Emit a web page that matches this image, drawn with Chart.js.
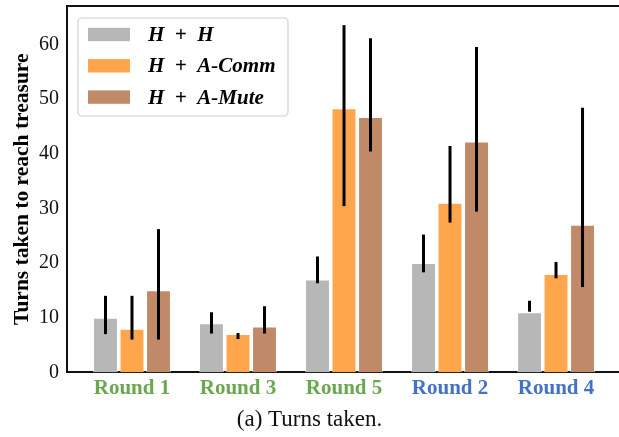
<!DOCTYPE html>
<html>
<head>
<meta charset="utf-8">
<script src="https://cdn.jsdelivr.net/npm/chart.js@4"></script>
<style>
  html, body { margin: 0; padding: 0; background: #fff; }
  #wrap { width: 619px; height: 437px; position: relative; }
</style>
</head>
<body>
<div id="wrap"><canvas id="c" width="619" height="437"></canvas></div>
<script>
// ---- data ----
const categories = ["Round 1", "Round 3", "Round 5", "Round 2", "Round 4"];
const categoryColors = ["#6aa84f", "#6aa84f", "#6aa84f", "#4472c4", "#4472c4"];
const seriesNames = ["H + H", "H + A-Comm", "H + A-Mute"];
const hh     = [10, 9, 17, 20, 11];
const hhLo   = [7, 7.1, 16.3, 18.3, 11.1];
const hhHi   = [14, 11, 21.2, 25.2, 13.1];
const comm   = [8, 7, 48.3, 31, 18];
const commLo = [6, 6.1, 30.4, 27.4, 17.2];
const commHi = [14, 7.2, 63.5, 41.4, 20.2];
const mute   = [15, 8.4, 46.7, 42.2, 27];
const muteLo = [6, 7.1, 40.4, 29.4, 15.6];
const muteHi = [26.2, 12.1, 61.1, 59.5, 48.4];
const yTicks = [0, 10, 20, 30, 40, 50, 60];

const SERIF = '"Liberation Serif", "Times New Roman", serif';
const colors = ["#b7b7b7", "#ffa64d", "#c08a69"];
const errLo = [hhLo, commLo, muteLo];
const errHi = [hhHi, commHi, muteHi];
const values = [hh, comm, mute];

const datasets = values.map((vals, k) => ({
  label: seriesNames[k],
  data: vals.map((v, i) => ({ x: i, y: v })),
  backgroundColor: colors[k],
  borderColor: "rgba(255,255,255,0.55)",
  borderWidth: 1,
  borderSkipped: "bottom",
  barPercentage: 0.94,
  categoryPercentage: 0.75
}));

const errorBars = {
  id: "errorBars",
  afterDatasetsDraw(chart) {
    const ctx = chart.ctx, y = chart.scales.y;
    ctx.save();
    ctx.strokeStyle = "#000";
    ctx.lineWidth = 3;
    chart.data.datasets.forEach((ds, k) => {
      const meta = chart.getDatasetMeta(k);
      meta.data.forEach((bar, i) => {
        ctx.beginPath();
        ctx.moveTo(bar.x, y.getPixelForValue(errLo[k][i]));
        ctx.lineTo(bar.x, y.getPixelForValue(errHi[k][i]));
        ctx.stroke();
      });
    });
    ctx.restore();
  }
};

const frame = {
  id: "frame",
  afterDraw(chart) {
    const ctx = chart.ctx, a = chart.chartArea;
    ctx.save();
    ctx.strokeStyle = "#111";
    ctx.lineWidth = 2;
    ctx.beginPath();
    ctx.moveTo(a.left - 1, a.top);
    ctx.lineTo(chart.width, a.top);
    ctx.stroke();
    ctx.restore();
  }
};

const boxLegend = {
  id: "boxLegend",
  afterDraw(chart) {
    const ctx = chart.ctx, a = chart.chartArea;
    const bx = a.left + 11, by = a.top + 12, bw = 210, bh = 98, r = 4;
    ctx.save();
    ctx.beginPath();
    ctx.moveTo(bx + r, by);
    ctx.arcTo(bx + bw, by, bx + bw, by + bh, r);
    ctx.arcTo(bx + bw, by + bh, bx, by + bh, r);
    ctx.arcTo(bx, by + bh, bx, by, r);
    ctx.arcTo(bx, by, bx + bw, by, r);
    ctx.closePath();
    ctx.fillStyle = "rgba(255,255,255,0.85)";
    ctx.fill();
    ctx.strokeStyle = "#d0d0d0";
    ctx.lineWidth = 1.2;
    ctx.stroke();
    ctx.font = 'italic bold 21px ' + SERIF;
    ctx.textBaseline = "middle";
    ctx.textAlign = "left";
    chart.data.datasets.forEach((ds, k) => {
      const cy = by + 16.5 + k * 31.3;
      ctx.fillStyle = ds.backgroundColor;
      ctx.fillRect(bx + 10, cy - 6.7, 42, 13.4);
      ctx.fillStyle = "#000";
      ctx.fillText(ds.label.replace(/ \+ /g, "\u2002+\u2002"), bx + 70, cy + 1);
    });
    ctx.restore();
  }
};

new Chart(document.getElementById("c"), {
  type: "bar",
  data: { datasets },
  plugins: [errorBars, frame, boxLegend],
  options: {
    responsive: false,
    animation: false,
    layout: { padding: { top: 6, left: 0, right: 0, bottom: 0 } },
    plugins: {
      legend: { display: false },
      tooltip: { enabled: false },
      title: {
        display: true,
        position: "bottom",
        text: "(a) Turns taken.",
        color: "#111",
        font: { family: SERIF, size: 23, weight: "normal" },
        padding: { top: 0, bottom: 3 }
      }
    },
    scales: {
      x: {
        type: "linear",
        offset: false,
        min: -0.613,
        max: 4.594,
        grid: { display: false, drawTicks: false, offset: false },
        border: { display: true, color: "#111", width: 2 },
        afterBuildTicks: s => { s.ticks = categories.map((_, i) => ({ value: i })); },
        afterFit: s => { s.height = 34; s.paddingLeft = 0; s.paddingRight = 0; },
        ticks: {
          padding: 4,
          autoSkip: false,
          maxRotation: 0,
          callback: v => categories[v] ?? "",
          color: c => categoryColors[c.tick ? c.tick.value : c.index] || "#000",
          font: { family: SERIF, size: 21, weight: "bold" }
        }
      },
      y: {
        min: 0,
        max: 67,
        grid: { display: false, drawTicks: false },
        border: { display: true, color: "#111", width: 2 },
        afterBuildTicks: s => { s.ticks = yTicks.map(v => ({ value: v })); },
        afterFit: s => { s.width = 67; s.paddingTop = 0; s.paddingBottom = 0; },
        ticks: {
          padding: 8,
          color: "#111",
          font: { family: SERIF, size: 20 }
        },
        title: {
          display: true,
          text: "Turns taken to reach treasure",
          color: "#000",
          font: { family: SERIF, size: 21.5, weight: "bold" },
          padding: { top: 10, bottom: 0 }
        }
      }
    }
  }
});
</script>
</body>
</html>
